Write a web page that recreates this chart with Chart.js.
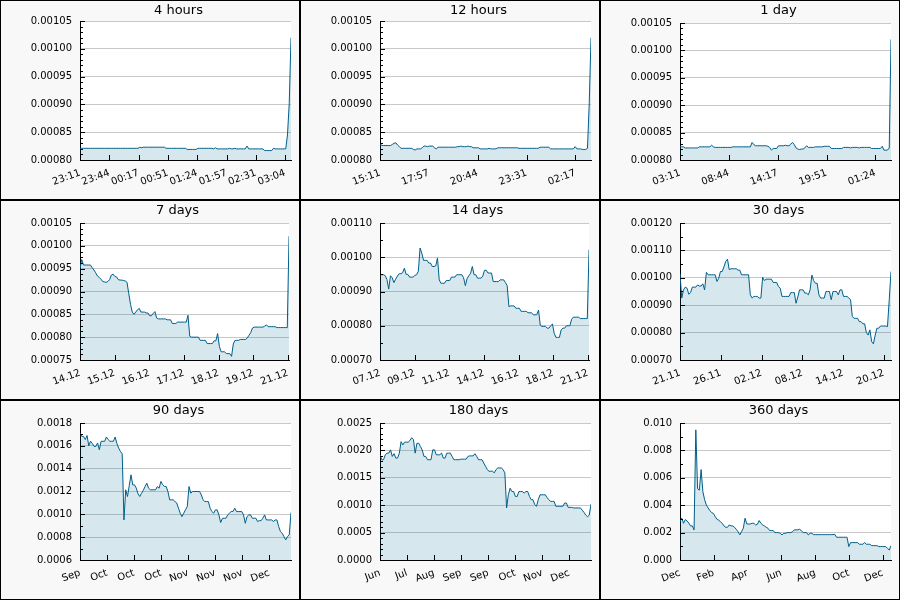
<!DOCTYPE html>
<html>
<head>
<meta charset="utf-8">
<script src="https://cdn.jsdelivr.net/npm/chart.js@4"></script>
<style>
body { margin: 0; background: #fff; }
#grid { display: grid; grid-template-columns: repeat(3, 300px); grid-template-rows: repeat(3, 200px); width: 900px; height: 600px; }
.panel { box-sizing: border-box; border: 1px solid #000; background: #f8f8f8; }
.panel canvas { display: block; }
</style>
</head>
<body>
<div id="grid"></div>
<script>
Chart.defaults.font.family = '"DejaVu Sans", sans-serif';
Chart.defaults.font.size = 10;
Chart.defaults.color = '#000';

// titles and time spans (minutes for the first three, days for the rest)
var panelTitles = ['4 hours', '12 hours', '1 day', '7 days', '14 days', '30 days', '90 days', '180 days', '360 days'];
var spans = [240, 720, 1440, 7.04, 14.08, 30.2, 91, 182, 364];
var tickSteps = [33.33, 166.67, 333.33, 1.1667, 2.3333, 5.8333, 11.667, 23.333, 58.333];

// tick labels
var ticks4h = ['23:11', '23:44', '00:17', '00:51', '01:24', '01:57', '02:31', '03:04'];
var ticks12h = ['15:11', '17:57', '20:44', '23:31', '02:17'];
var ticks1d = ['03:11', '08:44', '14:17', '19:51', '01:24'];
var ticks7d = ['14.12', '15.12', '16.12', '17.12', '18.12', '19.12', '21.12'];
var ticks14d = ['07.12', '09.12', '11.12', '14.12', '16.12', '18.12', '21.12'];
var ticks30d = ['21.11', '26.11', '02.12', '08.12', '14.12', '20.12'];
var ticks90d = ['Sep', 'Oct', 'Oct', 'Oct', 'Nov', 'Nov', 'Nov', 'Dec'];
var ticks180d = ['Jun', 'Jul', 'Aug', 'Sep', 'Sep', 'Oct', 'Nov', 'Dec'];
var ticks360d = ['Dec', 'Feb', 'Apr', 'Jun', 'Aug', 'Oct', 'Dec'];

// y axis ranges
var yMins = [0.0008, 0.0008, 0.0008, 0.00075, 0.0007, 0.0007, 0.0006, 0, 0];
var yMaxs = [0.00105, 0.00105, 0.00105, 0.00105, 0.0011, 0.0012, 0.0018, 0.0025, 0.010];
var ySteps = [0.00005, 0.00005, 0.00005, 0.00005, 0.0001, 0.0001, 0.0002, 0.0005, 0.002];
var yMinor = [5, 5, 5, 4, 2, 2, 2, 5, 2];
var yDecimals = [5, 5, 5, 5, 5, 5, 4, 4, 3];
var topPads = [20, 20, 22, 22, 22, 22, 22, 22, 22];

// series values
var values4h = [
  8.21e-4,8.21e-4,8.21e-4,8.21e-4,8.21e-4,8.21e-4,8.21e-4,8.21e-4,8.21e-4,8.21e-4,
  8.21e-4,8.21e-4,8.21e-4,8.21e-4,8.21e-4,8.21e-4,8.21e-4,8.21e-4,8.21e-4,8.21e-4,
  8.21e-4,8.21e-4,8.21e-4,8.21e-4,8.21e-4,8.21e-4,8.21e-4,8.21e-4,8.21e-4,8.21e-4,
  8.21e-4,8.21e-4,8.21e-4,8.21e-4,8.23e-4,8.22e-4,8.23e-4,8.23e-4,8.23e-4,8.23e-4,
  8.23e-4,8.23e-4,8.23e-4,8.23e-4,8.23e-4,8.23e-4,8.23e-4,8.23e-4,8.23e-4,8.21e-4,
  8.21e-4,8.21e-4,8.21e-4,8.21e-4,8.21e-4,8.21e-4,8.21e-4,8.21e-4,8.21e-4,8.21e-4,
  8.21e-4,8.19e-4,8.19e-4,8.19e-4,8.19e-4,8.19e-4,8.19e-4,8.21e-4,8.21e-4,8.21e-4,
  8.21e-4,8.21e-4,8.21e-4,8.21e-4,8.21e-4,8.21e-4,8.20e-4,8.22e-4,8.20e-4,8.20e-4,
  8.20e-4,8.20e-4,8.20e-4,8.20e-4,8.20e-4,8.21e-4,8.20e-4,8.20e-4,8.21e-4,8.20e-4,
  8.20e-4,8.20e-4,8.20e-4,8.20e-4,8.20e-4,8.25e-4,8.20e-4,8.20e-4,8.20e-4,8.20e-4,
  8.20e-4,8.20e-4,8.20e-4,8.20e-4,8.20e-4,8.17e-4,8.17e-4,8.17e-4,8.17e-4,8.17e-4,
  8.21e-4,8.20e-4,8.20e-4,8.20e-4,8.20e-4,8.20e-4,8.20e-4,8.20e-4,8.45e-4,9.02e-4,
  10.20e-4];
var values12h = [
  8.30e-4,8.26e-4,8.26e-4,8.26e-4,8.26e-4,8.26e-4,8.26e-4,8.28e-4,8.30e-4,8.31e-4,
  8.27e-4,8.24e-4,8.21e-4,8.21e-4,8.21e-4,8.21e-4,8.21e-4,8.21e-4,8.21e-4,8.19e-4,
  8.18e-4,8.20e-4,8.20e-4,8.20e-4,8.22e-4,8.25e-4,8.25e-4,8.24e-4,8.25e-4,8.25e-4,
  8.25e-4,8.22e-4,8.20e-4,8.23e-4,8.23e-4,8.23e-4,8.23e-4,8.23e-4,8.23e-4,8.23e-4,
  8.23e-4,8.23e-4,8.23e-4,8.23e-4,8.24e-4,8.24e-4,8.25e-4,8.24e-4,8.24e-4,8.24e-4,
  8.25e-4,8.24e-4,8.24e-4,8.22e-4,8.22e-4,8.22e-4,8.22e-4,8.20e-4,8.20e-4,8.20e-4,
  8.20e-4,8.20e-4,8.21e-4,8.20e-4,8.20e-4,8.20e-4,8.20e-4,8.22e-4,8.22e-4,8.22e-4,
  8.22e-4,8.22e-4,8.22e-4,8.22e-4,8.22e-4,8.22e-4,8.22e-4,8.22e-4,8.22e-4,8.21e-4,
  8.21e-4,8.21e-4,8.21e-4,8.21e-4,8.21e-4,8.21e-4,8.21e-4,8.21e-4,8.21e-4,8.21e-4,
  8.21e-4,8.23e-4,8.23e-4,8.23e-4,8.23e-4,8.23e-4,8.23e-4,8.20e-4,8.20e-4,8.20e-4,
  8.20e-4,8.20e-4,8.20e-4,8.20e-4,8.20e-4,8.20e-4,8.20e-4,8.20e-4,8.20e-4,8.20e-4,
  8.20e-4,8.24e-4,8.20e-4,8.20e-4,8.20e-4,8.19e-4,8.19e-4,8.19e-4,8.21e-4,9.02e-4,
  10.20e-4];
var values1d = [
  8.24e-4,8.24e-4,8.24e-4,8.22e-4,8.22e-4,8.22e-4,8.22e-4,8.22e-4,8.22e-4,8.22e-4,
  8.22e-4,8.24e-4,8.24e-4,8.24e-4,8.24e-4,8.24e-4,8.24e-4,8.24e-4,8.27e-4,8.24e-4,
  8.23e-4,8.23e-4,8.23e-4,8.23e-4,8.23e-4,8.23e-4,8.23e-4,8.23e-4,8.23e-4,8.23e-4,
  8.24e-4,8.24e-4,8.24e-4,8.24e-4,8.24e-4,8.24e-4,8.24e-4,8.24e-4,8.24e-4,8.24e-4,
  8.24e-4,8.32e-4,8.28e-4,8.26e-4,8.26e-4,8.26e-4,8.26e-4,8.26e-4,8.26e-4,8.26e-4,
  8.25e-4,8.23e-4,8.18e-4,8.21e-4,8.21e-4,8.21e-4,8.26e-4,8.26e-4,8.26e-4,8.26e-4,
  8.27e-4,8.26e-4,8.26e-4,8.29e-4,8.32e-4,8.28e-4,8.22e-4,8.20e-4,8.19e-4,8.20e-4,
  8.20e-4,8.22e-4,8.26e-4,8.23e-4,8.23e-4,8.23e-4,8.23e-4,8.24e-4,8.24e-4,8.24e-4,
  8.24e-4,8.24e-4,8.25e-4,8.25e-4,8.25e-4,8.25e-4,8.21e-4,8.21e-4,8.21e-4,8.21e-4,
  8.21e-4,8.21e-4,8.21e-4,8.23e-4,8.23e-4,8.23e-4,8.23e-4,8.22e-4,8.23e-4,8.23e-4,
  8.23e-4,8.23e-4,8.22e-4,8.23e-4,8.23e-4,8.23e-4,8.23e-4,8.23e-4,8.23e-4,8.21e-4,
  8.21e-4,8.21e-4,8.21e-4,8.21e-4,8.21e-4,8.25e-4,8.18e-4,8.18e-4,8.18e-4,8.22e-4,
  10.20e-4];
var values7d = [
  9.50e-4,9.70e-4,9.58e-4,9.58e-4,9.58e-4,9.58e-4,9.58e-4,9.52e-4,9.47e-4,9.41e-4,
  9.34e-4,9.31e-4,9.27e-4,9.22e-4,9.21e-4,9.20e-4,9.22e-4,9.26e-4,9.36e-4,9.38e-4,
  9.33e-4,9.32e-4,9.26e-4,9.25e-4,9.25e-4,9.24e-4,9.23e-4,9.20e-4,8.95e-4,8.72e-4,
  8.55e-4,8.50e-4,8.55e-4,8.60e-4,8.63e-4,8.55e-4,8.55e-4,8.55e-4,8.53e-4,8.53e-4,
  8.47e-4,8.47e-4,8.52e-4,8.56e-4,8.42e-4,8.40e-4,8.40e-4,8.40e-4,8.40e-4,8.40e-4,
  8.38e-4,8.38e-4,8.38e-4,8.30e-4,8.30e-4,8.30e-4,8.33e-4,8.33e-4,8.33e-4,8.33e-4,
  8.33e-4,8.33e-4,8.48e-4,8.02e-4,8.00e-4,8.00e-4,8.00e-4,8.00e-4,8.00e-4,7.93e-4,
  7.93e-4,7.93e-4,7.93e-4,7.86e-4,7.86e-4,7.86e-4,7.86e-4,7.92e-4,7.92e-4,8.08e-4,
  7.80e-4,7.68e-4,7.68e-4,7.68e-4,7.64e-4,7.64e-4,7.64e-4,7.58e-4,7.85e-4,7.93e-4,
  7.93e-4,7.93e-4,7.95e-4,7.95e-4,7.95e-4,7.95e-4,7.98e-4,8.04e-4,8.10e-4,8.20e-4,
  8.22e-4,8.22e-4,8.22e-4,8.22e-4,8.22e-4,8.22e-4,8.24e-4,8.27e-4,8.23e-4,8.23e-4,
  8.23e-4,8.23e-4,8.23e-4,8.21e-4,8.21e-4,8.21e-4,8.21e-4,8.21e-4,8.21e-4,8.21e-4,
  10.21e-4];
var values14d = [
  9.49e-4,9.49e-4,9.49e-4,9.46e-4,9.35e-4,9.07e-4,9.46e-4,9.40e-4,9.26e-4,9.36e-4,
  9.45e-4,9.52e-4,9.52e-4,9.55e-4,9.68e-4,9.50e-4,9.50e-4,9.42e-4,9.42e-4,9.42e-4,
  9.47e-4,9.49e-4,9.59e-4,10.27e-4,10.12e-4,9.91e-4,9.91e-4,9.91e-4,9.83e-4,9.83e-4,
  9.73e-4,9.73e-4,9.75e-4,9.98e-4,9.34e-4,9.24e-4,9.24e-4,9.24e-4,9.32e-4,9.32e-4,
  9.32e-4,9.42e-4,9.42e-4,9.42e-4,9.49e-4,9.49e-4,9.49e-4,9.49e-4,9.40e-4,9.17e-4,
  9.38e-4,9.46e-4,9.53e-4,9.73e-4,9.49e-4,9.49e-4,9.39e-4,9.39e-4,9.39e-4,9.45e-4,
  9.62e-4,9.62e-4,9.54e-4,9.54e-4,9.54e-4,9.29e-4,9.29e-4,9.29e-4,9.29e-4,9.34e-4,
  9.34e-4,9.34e-4,9.26e-4,9.17e-4,8.56e-4,8.58e-4,8.58e-4,8.58e-4,8.51e-4,8.51e-4,
  8.51e-4,8.42e-4,8.42e-4,8.42e-4,8.42e-4,8.38e-4,8.38e-4,8.38e-4,8.32e-4,8.32e-4,
  8.32e-4,8.46e-4,8.02e-4,7.98e-4,7.98e-4,7.98e-4,7.93e-4,7.93e-4,8.00e-4,8.05e-4,
  7.78e-4,7.66e-4,7.66e-4,7.66e-4,7.88e-4,7.93e-4,7.93e-4,8.00e-4,8.00e-4,8.00e-4,
  8.19e-4,8.25e-4,8.25e-4,8.25e-4,8.25e-4,8.21e-4,8.21e-4,8.21e-4,8.21e-4,8.21e-4,
  10.22e-4];
var values30d = [
  10.15e-4,9.26e-4,9.56e-4,9.66e-4,9.62e-4,9.40e-4,9.46e-4,9.66e-4,9.66e-4,9.66e-4,
  9.74e-4,9.70e-4,9.70e-4,9.78e-4,9.56e-4,10.20e-4,10.11e-4,10.11e-4,10.11e-4,10.11e-4,
  10.11e-4,9.87e-4,9.98e-4,10.23e-4,10.23e-4,10.40e-4,10.60e-4,10.68e-4,10.30e-4,10.33e-4,
  10.33e-4,10.33e-4,10.33e-4,10.28e-4,10.28e-4,10.11e-4,10.11e-4,10.11e-4,10.11e-4,10.11e-4,
  9.38e-4,9.26e-4,9.32e-4,9.32e-4,9.32e-4,9.26e-4,9.26e-4,10.02e-4,9.90e-4,9.95e-4,
  9.95e-4,9.95e-4,9.95e-4,9.83e-4,9.83e-4,9.83e-4,9.68e-4,9.62e-4,9.32e-4,9.32e-4,
  9.32e-4,9.32e-4,9.32e-4,9.46e-4,9.46e-4,9.46e-4,9.07e-4,9.30e-4,9.56e-4,9.56e-4,
  9.56e-4,9.44e-4,9.44e-4,9.38e-4,9.56e-4,10.10e-4,9.90e-4,9.80e-4,9.80e-4,9.38e-4,
  9.26e-4,9.26e-4,9.26e-4,9.50e-4,9.50e-4,9.50e-4,9.20e-4,9.50e-4,9.50e-4,9.50e-4,
  9.38e-4,9.56e-4,9.56e-4,9.32e-4,9.32e-4,9.32e-4,9.26e-4,9.20e-4,8.59e-4,8.52e-4,
  8.52e-4,8.52e-4,8.40e-4,8.40e-4,8.32e-4,8.32e-4,8.00e-4,7.91e-4,8.10e-4,7.67e-4,
  7.59e-4,7.91e-4,8.16e-4,8.16e-4,8.24e-4,8.24e-4,8.24e-4,8.24e-4,8.22e-4,9.20e-4,
  10.23e-4];
var values90d = [
  17.12e-4,16.83e-4,16.83e-4,16.55e-4,16.90e-4,16.00e-4,16.40e-4,16.20e-4,15.95e-4,15.95e-4,
  16.25e-4,15.66e-4,16.40e-4,16.40e-4,16.40e-4,16.77e-4,16.55e-4,16.40e-4,16.40e-4,16.40e-4,
  16.77e-4,16.20e-4,15.80e-4,15.51e-4,15.30e-4,9.51e-4,12.15e-4,11.56e-4,12.50e-4,13.46e-4,
  12.58e-4,12.58e-4,12.30e-4,11.80e-4,11.56e-4,11.85e-4,12.10e-4,12.44e-4,12.73e-4,12.29e-4,
  12.15e-4,12.15e-4,12.15e-4,12.15e-4,12.44e-4,12.29e-4,12.88e-4,12.60e-4,12.44e-4,12.44e-4,
  12.00e-4,11.27e-4,11.27e-4,11.27e-4,11.12e-4,11.00e-4,10.54e-4,10.10e-4,9.80e-4,10.10e-4,
  10.40e-4,10.68e-4,12.44e-4,11.85e-4,12.00e-4,12.00e-4,12.00e-4,12.00e-4,12.00e-4,11.70e-4,
  11.27e-4,11.12e-4,11.12e-4,11.12e-4,10.54e-4,10.25e-4,10.10e-4,10.39e-4,10.39e-4,9.95e-4,
  9.28e-4,9.66e-4,9.66e-4,9.66e-4,9.95e-4,10.10e-4,10.25e-4,10.25e-4,10.54e-4,10.24e-4,
  10.24e-4,10.24e-4,10.24e-4,9.95e-4,9.22e-4,9.80e-4,9.95e-4,9.95e-4,9.66e-4,9.66e-4,
  9.66e-4,9.37e-4,9.45e-4,9.45e-4,9.66e-4,9.95e-4,9.51e-4,9.51e-4,9.51e-4,9.51e-4,
  9.37e-4,9.51e-4,9.51e-4,8.93e-4,8.49e-4,8.34e-4,8.05e-4,7.76e-4,8.05e-4,8.20e-4,
  10.16e-4];
var values180d = [
  19.2e-4,18.3e-4,18.3e-4,19.2e-4,19.5e-4,19.5e-4,20.1e-4,18.9e-4,19.4e-4,18.6e-4,
  18.6e-4,19.5e-4,21.6e-4,21.0e-4,21.5e-4,21.5e-4,21.5e-4,21.8e-4,22.3e-4,22.0e-4,
  19.5e-4,21.3e-4,21.3e-4,20.7e-4,20.1e-4,18.9e-4,18.9e-4,18.3e-4,18.3e-4,18.3e-4,
  20.1e-4,20.1e-4,19.2e-4,19.2e-4,19.2e-4,19.5e-4,18.6e-4,18.6e-4,19.5e-4,19.5e-4,
  19.5e-4,18.9e-4,18.3e-4,18.3e-4,18.3e-4,18.3e-4,18.4e-4,18.4e-4,18.4e-4,18.4e-4,
  18.9e-4,19.0e-4,19.0e-4,19.0e-4,19.4e-4,18.9e-4,18.3e-4,18.3e-4,18.3e-4,17.7e-4,
  17.1e-4,16.5e-4,16.2e-4,16.2e-4,16.2e-4,15.9e-4,16.5e-4,16.8e-4,16.8e-4,16.8e-4,
  16.5e-4,15.9e-4,9.5e-4,11.9e-4,13.1e-4,12.5e-4,12.5e-4,11.6e-4,11.6e-4,12.5e-4,
  12.5e-4,12.5e-4,12.2e-4,12.5e-4,12.5e-4,11.6e-4,11.0e-4,11.0e-4,10.1e-4,9.8e-4,
  11.0e-4,11.9e-4,11.9e-4,11.9e-4,11.9e-4,11.4e-4,11.0e-4,10.7e-4,10.7e-4,10.7e-4,
  9.8e-4,9.8e-4,9.8e-4,9.8e-4,9.8e-4,10.4e-4,10.4e-4,9.6e-4,9.6e-4,9.6e-4,
  9.5e-4,9.5e-4,9.5e-4,9.5e-4,9.5e-4,9.1e-4,8.7e-4,8.2e-4,7.9e-4,8.2e-4,
  10.2e-4];
var values360d = [
  28e-4,30.5e-4,26.8e-4,29.5e-4,28.5e-4,27e-4,24.9e-4,24.9e-4,22e-4,95e-4,
  52e-4,51e-4,66e-4,50e-4,44e-4,40e-4,38e-4,36e-4,34.6e-4,34e-4,
  31.7e-4,29.8e-4,29e-4,28e-4,26.8e-4,24.9e-4,23.9e-4,23.9e-4,25.6e-4,24.9e-4,
  24.9e-4,23.9e-4,22.4e-4,20.7e-4,18.3e-4,20.7e-4,23.2e-4,30.5e-4,26.3e-4,26.3e-4,
  26.3e-4,26.8e-4,26.8e-4,25.6e-4,26e-4,28.8e-4,26.8e-4,25.6e-4,24.9e-4,23.9e-4,
  23.2e-4,21.5e-4,21.5e-4,21.5e-4,20e-4,20e-4,20e-4,19.5e-4,18.3e-4,19.5e-4,
  19.5e-4,20e-4,20e-4,20e-4,20.7e-4,22e-4,22e-4,22e-4,22.4e-4,21.5e-4,
  20e-4,20e-4,20e-4,18.3e-4,19.5e-4,19.5e-4,18.5e-4,18.5e-4,18.5e-4,18.5e-4,
  18.5e-4,18.5e-4,18.5e-4,18.5e-4,18.5e-4,18.5e-4,18.5e-4,18.5e-4,18.8e-4,16.6e-4,
  16.6e-4,16.6e-4,16.6e-4,16.6e-4,16.6e-4,16.6e-4,9.8e-4,12.7e-4,12.7e-4,12.7e-4,
  12.7e-4,12.7e-4,11.5e-4,11.5e-4,11.5e-4,12.7e-4,11.5e-4,11.5e-4,11.5e-4,10.5e-4,
  10.5e-4,10.5e-4,10.5e-4,9.8e-4,9.8e-4,9.8e-4,9.8e-4,9.8e-4,8.5e-4,7.3e-4,
  10.5e-4];

var tickLabels = [ticks4h, ticks12h, ticks1d, ticks7d, ticks14d, ticks30d, ticks90d, ticks180d, ticks360d];
var seriesValues = [values4h, values12h, values1d, values7d, values14d, values30d, values90d, values180d, values360d];

// white plot area, inward tick marks and the panel title
var panelDecor = {
  id: 'panelDecor',
  beforeDraw: function(chart) {
    var a = chart.chartArea;
    chart.ctx.save();
    chart.ctx.fillStyle = '#fff';
    chart.ctx.fillRect(a.left, a.top, a.right - a.left, a.bottom - a.top);
    chart.ctx.restore();
  },
  afterDraw: function(chart, args, opts) {
    var ctx = chart.ctx, a = chart.chartArea;
    var ys = chart.scales.y, xs = chart.scales.x;
    ctx.save();
    ctx.strokeStyle = '#000';
    ctx.lineWidth = 1;
    ctx.beginPath();
    var minorStep = opts.step / opts.minor;
    var n = Math.round((ys.max - ys.min) / minorStep);
    for (var k = 0; k <= n; k++) {
      var py = Math.round(ys.getPixelForValue(ys.min + k * minorStep)) + 0.5;
      var len = (k % opts.minor === 0) ? 5 : 3;
      ctx.moveTo(a.left, py);
      ctx.lineTo(a.left + len, py);
    }
    xs.ticks.forEach(function(t) {
      var px = Math.round(xs.getPixelForValue(t.value)) + 0.5;
      ctx.moveTo(px, a.bottom);
      ctx.lineTo(px, a.bottom - 5);
    });
    ctx.stroke();
    ctx.fillStyle = '#000';
    ctx.font = '13px "DejaVu Sans", sans-serif';
    ctx.textAlign = 'center';
    ctx.textBaseline = 'middle';
    ctx.fillText(opts.title, (a.left + a.right) / 2 - 7, 10);
    ctx.restore();
  }
};

var grid = document.getElementById('grid');

function makeChart(k) {
  var panel = document.createElement('div');
  panel.className = 'panel';
  var canvas = document.createElement('canvas');
  canvas.width = 298;
  canvas.height = 198;
  panel.appendChild(canvas);
  grid.appendChild(panel);

  var vals = seriesValues[k];
  var labs = tickLabels[k];
  var pts = vals.map(function(v, i) {
    return { x: i * spans[k] / (vals.length - 1), y: v };
  });

  new Chart(canvas, {
    type: 'line',
    data: {
      datasets: [{
        data: pts,
        borderColor: '#005f8a',
        borderWidth: 1,
        backgroundColor: 'rgba(0,105,148,0.16)',
        fill: 'start',
        pointRadius: 0,
        tension: 0
      }]
    },
    options: {
      responsive: false,
      animation: false,
      devicePixelRatio: 1,
      layout: { padding: { left: 0, right: 8, top: topPads[k], bottom: 0 } },
      plugins: {
        legend: { display: false },
        tooltip: { enabled: false },
        panelDecor: { title: panelTitles[k], step: ySteps[k], minor: yMinor[k] }
      },
      scales: {
        x: {
          type: 'linear',
          min: 0,
          max: spans[k],
          border: { color: '#000', width: 1 },
          grid: { drawOnChartArea: false, drawTicks: false },
          afterBuildTicks: function(s) {
            s.ticks = labs.map(function(l, j) { return { value: j * tickSteps[k] }; });
          },
          ticks: {
            autoSkip: false,
            maxRotation: 20,
            minRotation: 20,
            padding: 7,
            callback: function(v, j) { return labs[j]; }
          },
          afterFit: function(s) { s.height = 39; }
        },
        y: {
          min: yMins[k],
          max: yMaxs[k],
          border: { color: '#000', width: 1 },
          grid: { color: '#c8c8c8', drawTicks: false },
          ticks: {
            stepSize: ySteps[k],
            autoSkip: false,
            padding: 8,
            callback: function(v) { return v.toFixed(yDecimals[k]); }
          },
          afterFit: function(s) { s.width = 79; }
        }
      }
    },
    plugins: [panelDecor]
  });
}

for (var k = 0; k < 9; k++) makeChart(k);
</script>
</body>
</html>
